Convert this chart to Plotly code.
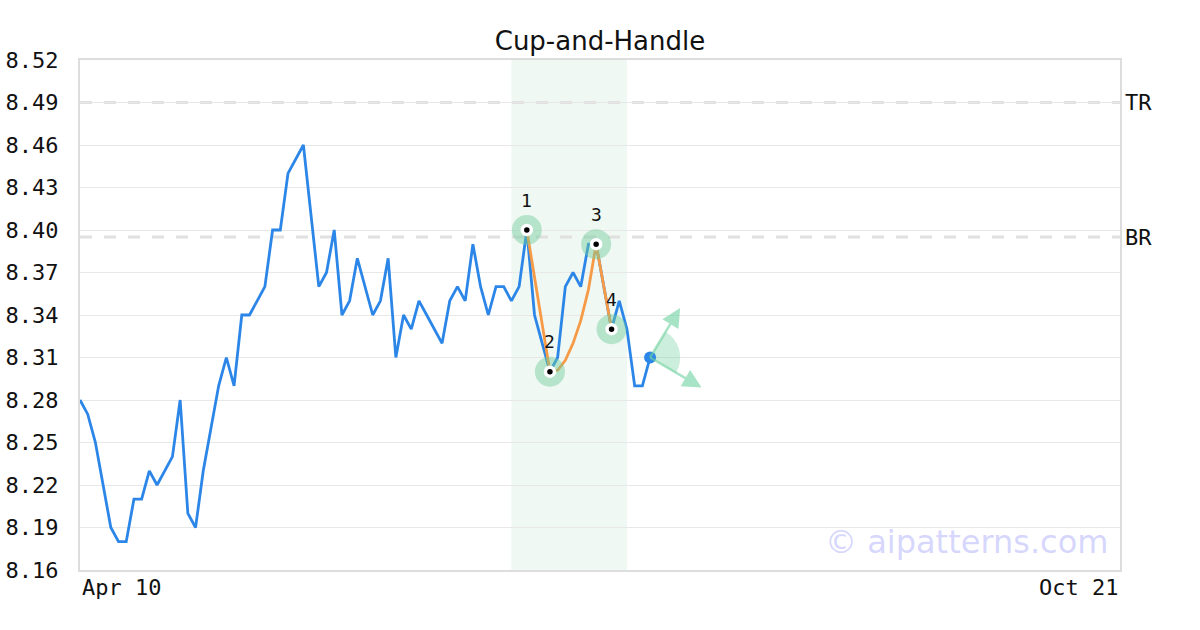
import numpy as np
import plotly.graph_objects as go

# ---------------- data ----------------
prices = [8.28, 8.27, 8.25, 8.22, 8.19, 8.18, 8.18, 8.21, 8.21, 8.23,
          8.22, 8.23, 8.24, 8.28, 8.20, 8.19, 8.23, 8.26, 8.29, 8.31,
          8.29, 8.34, 8.34, 8.35, 8.36, 8.40, 8.40, 8.44, 8.45, 8.46,
          8.41, 8.36, 8.37, 8.40, 8.34, 8.35, 8.38, 8.36, 8.34, 8.35,
          8.38, 8.31, 8.34, 8.33, 8.35, 8.34, 8.33, 8.32, 8.35, 8.36,
          8.35, 8.39, 8.36, 8.34, 8.36, 8.36, 8.35, 8.36, 8.40, 8.34,
          8.32, 8.30, 8.31, 8.36, 8.37, 8.36, 8.39, 8.39, 8.36, 8.33,
          8.35, 8.33, 8.29, 8.29, 8.31]
x_idx = list(range(len(prices)))
x_axis_end = 135
x_tick_labels = ["Apr 10", "Oct 21"]

# pattern (cup & handle) fitted curve
pattern_x = [58, 61, 62, 63, 64, 65, 66, 67, 69]
pattern_y = [8.40, 8.30, 8.301, 8.308, 8.32, 8.336, 8.358, 8.39, 8.33]

# key points
key_x = [58, 61, 67, 69]
key_y = [8.40, 8.30, 8.39, 8.33]
key_labels = ["1", "2", "3", "4"]

# pattern window
window_x = [56, 71]

# resistance levels
level_names = ["TR", "BR"]
level_values = [8.49, 8.395]

# y ticks
y_ticks = [8.16, 8.19, 8.22, 8.25, 8.28, 8.31, 8.34, 8.37, 8.40, 8.43, 8.46, 8.49, 8.52]

# projection arrows (pixel offsets from last point)
arrow_dx = [31, 53]
arrow_dy = [-51, 31]

title = "Cup-and-Handle"
watermark = "© aipatterns.com"

# ---------------- figure ----------------
MONO = "DejaVu Sans Mono"
SANS = "DejaVu Sans"
BLUE = "#2b86e8"
ORANGE = "#f79a45"
GREEN_HALO = "rgba(110,205,155,0.45)"
ARROW_COL = "rgba(110,210,160,0.6)"

fig = go.Figure()

fig.add_vrect(x0=window_x[0], x1=window_x[1], fillcolor="rgba(120,200,160,0.12)",
              line_width=0, layer="below")

for name, val in zip(level_names, level_values):
    fig.add_shape(type="line", xref="paper", x0=0, x1=1, yref="y", y0=val, y1=val,
                  line=dict(color="#e0e0e0", width=3, dash="12px,12px"), layer="below")
    fig.add_annotation(xref="paper", x=1, y=val, text=name, showarrow=False,
                       xanchor="left", yanchor="middle", xshift=3,
                       font=dict(family=MONO, size=22, color="#111"))

fig.add_trace(go.Scatter(x=x_idx, y=prices, mode="lines",
                         line=dict(color=BLUE, width=2.8), hoverinfo="skip"))

fig.add_trace(go.Scatter(x=pattern_x, y=pattern_y, mode="lines",
                         line=dict(color=ORANGE, width=2.8), hoverinfo="skip"))

fig.add_trace(go.Scatter(x=key_x, y=key_y, mode="markers",
                         marker=dict(size=30, color=GREEN_HALO, line=dict(width=0)),
                         hoverinfo="skip"))
fig.add_trace(go.Scatter(x=key_x, y=key_y, mode="markers",
                         marker=dict(size=9, color="black", line=dict(width=3.5, color="white")),
                         hoverinfo="skip"))

for kx, ky, lab in zip(key_x, key_y, key_labels):
    fig.add_annotation(x=kx, y=ky, text=lab, showarrow=False, yshift=30,
                       font=dict(family=MONO, size=18, color="#111"))

# projection wedge + arrows
last_x, last_y = x_idx[-1], prices[-1]
a0 = np.arctan2(-arrow_dy[1], arrow_dx[1])
a1 = np.arctan2(-arrow_dy[0], arrow_dx[0])
r = 30
angs = np.linspace(a0, a1, 30)
path = "M0,0 " + " ".join(f"L{r*np.cos(a):.2f},{r*np.sin(a):.2f}" for a in angs) + " Z"
fig.add_shape(type="path", xref="x", yref="y", xsizemode="pixel", ysizemode="pixel",
              xanchor=last_x, yanchor=last_y, path=path, layer="between",
              fillcolor="rgba(110,205,155,0.35)", line_width=0)

for dx, dy in zip(arrow_dx, arrow_dy):
    fig.add_annotation(x=last_x, y=last_y, ax=dx, ay=dy, text="", showarrow=True,
                       arrowside="start", startarrowhead=2, startarrowsize=1.5,
                       arrowwidth=2.5, arrowcolor=ARROW_COL)

fig.add_trace(go.Scatter(x=[last_x], y=[last_y], mode="markers",
                         marker=dict(size=12, color=BLUE), hoverinfo="skip"))

# x tick labels at axis ends
fig.add_annotation(x=0, xref="x", y=0, yref="paper", text=x_tick_labels[0],
                   showarrow=False, xanchor="left", yanchor="top", yshift=-3,
                   font=dict(family=MONO, size=22, color="#111"))
fig.add_annotation(x=x_axis_end, xref="x", y=0, yref="paper", text=x_tick_labels[1],
                   showarrow=False, xanchor="right", yanchor="top", yshift=-3,
                   font=dict(family=MONO, size=22, color="#111"))

fig.add_annotation(xref="paper", yref="paper", x=0.99, y=0.055, text=watermark,
                   showarrow=False, xanchor="right", yanchor="middle",
                   font=dict(family=SANS, size=32, color="rgba(150,150,250,0.4)"))

fig.update_layout(
    width=1200, height=630,
    margin=dict(l=80, r=80, t=60, b=60, autoexpand=False),
    paper_bgcolor="white", plot_bgcolor="white",
    showlegend=False,
    title=dict(text=title, x=0.5, xanchor="center", y=0.935, yanchor="middle",
               font=dict(family=SANS, size=26, color="#111")),
    xaxis=dict(range=[0, x_axis_end], showgrid=False, zeroline=False,
               showticklabels=False, ticks="", automargin=False,
               showline=True, mirror=True, linecolor="#dddddd", linewidth=2),
    yaxis=dict(range=[y_ticks[0], y_ticks[-1]], tickvals=y_ticks, tickformat=".2f",
               showgrid=True, gridcolor="#e8e8e8", gridwidth=1, zeroline=False,
               ticks="", ticklabelstandoff=15, automargin=False,
               tickfont=dict(family=MONO, size=22, color="#111"),
               showline=True, mirror=True, linecolor="#dddddd", linewidth=2),
)

fig.write_html("out.html", config={"displayModeBar": False},
               post_script="document.body.style.margin='0';")
